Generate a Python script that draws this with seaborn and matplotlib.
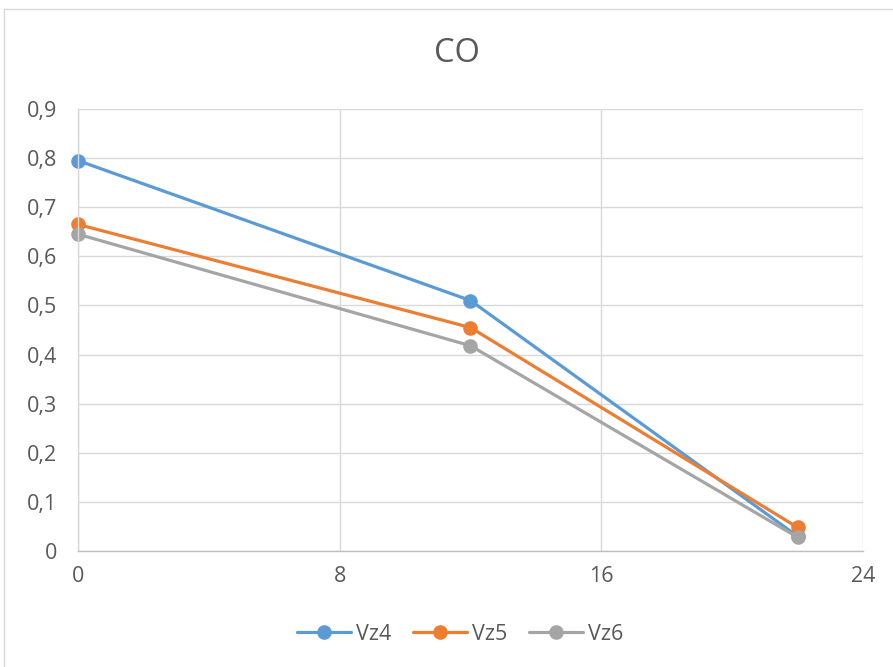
import matplotlib
matplotlib.use("Agg")
import matplotlib.pyplot as plt
import matplotlib.patches as mpatches
from matplotlib.ticker import FuncFormatter
import seaborn as sns
import pandas as pd

time = [0, 12, 22]
vz4 = [0.795, 0.51, 0.03]
vz5 = [0.665, 0.455, 0.048]
vz6 = [0.645, 0.418, 0.028]
series_names = ["Vz4", "Vz5", "Vz6"]
colors = ["#5B9BD5", "#ED7D31", "#A5A5A5"]

df = pd.DataFrame({
    "t": time * 3,
    "v": vz4 + vz5 + vz6,
    "s": [n for n in series_names for _ in time],
})

sns.set_style("white")
plt.rcParams["font.family"] = ["Open Sans", "DejaVu Sans"]

fig = plt.figure(figsize=(8.93, 6.67), dpi=100)
ax = fig.add_axes([78/893, 1-551/667, 785/893, 442/667])

sns.lineplot(data=df, x="t", y="v", hue="s", palette=colors, marker="o",
             markersize=10.5, linewidth=2.3, markeredgewidth=0, ax=ax, legend=True)
for ln in ax.lines:
    ln.set_clip_on(False)

ax.set_xlim(0, 24)
ax.set_ylim(0, 0.9)
ax.set_xticks([0, 8, 16, 24])
ax.set_yticks([i/10 for i in range(10)])
ax.yaxis.set_major_formatter(FuncFormatter(lambda v, p: "0" if abs(v) < 1e-9 else f"{v:.1f}".replace(".", ",")))
ax.grid(True, color="#d9d9d9", linewidth=1)
ax.set_axisbelow(True)
for side in ["top", "right"]:
    ax.spines[side].set_visible(False)
ax.spines["left"].set_color("#d9d9d9")
ax.spines["bottom"].set_color("#bfbfbf")
ax.spines["left"].set_linewidth(1)
ax.spines["bottom"].set_linewidth(1)
ax.tick_params(axis="both", length=0, labelsize=15.5, labelcolor="#595959")
ax.tick_params(axis="y", pad=15)
ax.tick_params(axis="x", pad=11)
ax.set_xlabel("")
ax.set_ylabel("")

fig.text(457/893, 1-54/667, "CO", ha="center", va="center", fontsize=23.5, color="#595959")

handles, labels = ax.get_legend_handles_labels()
leg = ax.legend(handles, labels, loc="center", bbox_to_anchor=(460/893, 1-634/667),
                bbox_transform=fig.transFigure, ncol=3, frameon=False, fontsize=15.5,
                handlelength=2.5, columnspacing=1.0, handletextpad=0.25)
for t in leg.get_texts():
    t.set_color("#595959")

border = mpatches.Rectangle((4/893, -0.05), 1.2, 1-9/667+0.05, transform=fig.transFigure,
                            fill=False, edgecolor="#d9d9d9", linewidth=1)
fig.patches.append(border)

fig.savefig("out.png", dpi=100)
